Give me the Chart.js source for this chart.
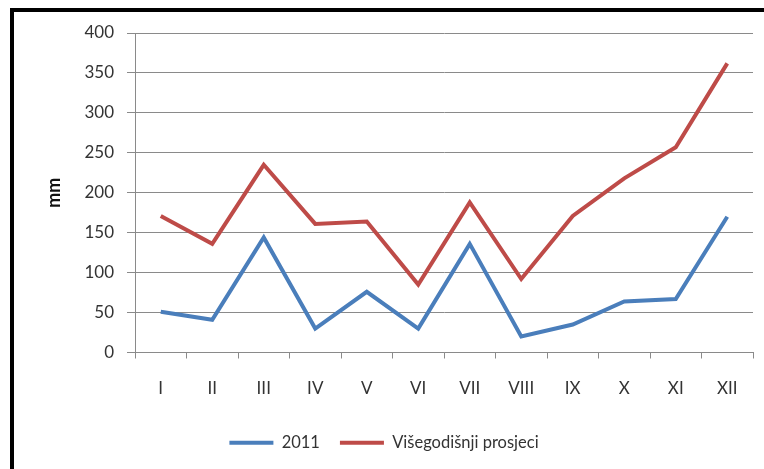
<!DOCTYPE html>
<html>
<head>
<meta charset="utf-8">
<script src="https://cdn.jsdelivr.net/npm/chart.js@4"></script>
<style>
  html, body { margin: 0; padding: 0; background: #fff; overflow: hidden; }
  #wrap { position: relative; width: 764px; height: 469px; }
  #frame { position: absolute; left: 10px; top: 8px; width: 780px; height: 500px; border: 4px solid #000; box-sizing: border-box; pointer-events: none; }
  canvas { position: absolute; left: 0; top: 0; }
</style>
</head>
<body>
<div id="wrap">
  <canvas id="c" width="764" height="469"></canvas>
  <div id="frame"></div>
</div>
<script>
const months = ['I', 'II', 'III', 'IV', 'V', 'VI', 'VII', 'VIII', 'IX', 'X', 'XI', 'XII'];
const series2011 = [51, 41, 144, 30, 76, 30, 136, 20, 35, 64, 67, 170];
const seriesAvg = [171, 136, 235, 161, 164, 85, 188, 92, 171, 218, 257, 362];
const seriesNames = ['2011', 'Višegodišnji prosjeci'];
const yTicks = [0, 50, 100, 150, 200, 250, 300, 350, 400];

const FONT = 'Lato, "Open Sans", sans-serif';
const gridGray = '#8a8a8a';

const legendShift = {
  id: 'legendShift',
  afterLayout(chart) {
    const lg = chart.legend;
    if (lg) { lg.left -= 13; lg.right -= 13; }
  }
};

new Chart(document.getElementById('c'), {
  type: 'line',
  data: {
    labels: months,
    datasets: [
      { label: seriesNames[0], data: series2011, borderColor: '#4a7ebb', backgroundColor: '#4a7ebb', borderWidth: 4, pointRadius: 0, tension: 0 },
      { label: seriesNames[1], data: seriesAvg, borderColor: '#be4b48', backgroundColor: '#be4b48', borderWidth: 4, pointRadius: 0, tension: 0 }
    ]
  },
  plugins: [legendShift],
  options: {
    responsive: false,
    animation: false,
    devicePixelRatio: 1,
    layout: { padding: { left: 41, right: 11, top: 33, bottom: 8 } },
    plugins: {
      tooltip: { enabled: false },
      legend: {
        position: 'bottom',
        labels: {
          usePointStyle: true,
          pointStyle: 'line',
          pointStyleWidth: 44,
          font: { family: FONT, size: 16.5 },
          color: '#333',
          padding: 20
        }
      }
    },
    scales: {
      x: {
        offset: true,
        grid: { display: true, drawOnChartArea: false, drawTicks: true, tickLength: 6, offset: true, color: gridGray },
        border: { color: gridGray },
        ticks: { font: { family: FONT, size: 17 }, color: '#333', padding: 20, maxRotation: 0 },
        afterFit: s => { s.height = 62; }
      },
      y: {
        min: 0, max: 400,
        afterBuildTicks: s => { s.ticks = yTicks.map(v => ({ value: v })); },
        grid: { color: gridGray, tickLength: 8 },
        border: { color: gridGray },
        ticks: { font: { family: FONT, size: 17 }, color: '#333', padding: 13 },
        title: { display: true, text: 'mm', font: { family: FONT, size: 18, weight: 'bold' }, color: '#111', padding: { top: 2, bottom: 0 } },
        afterFit: s => { s.width = 135 - 41; }
      }
    }
  }
});
</script>
</body>
</html>
